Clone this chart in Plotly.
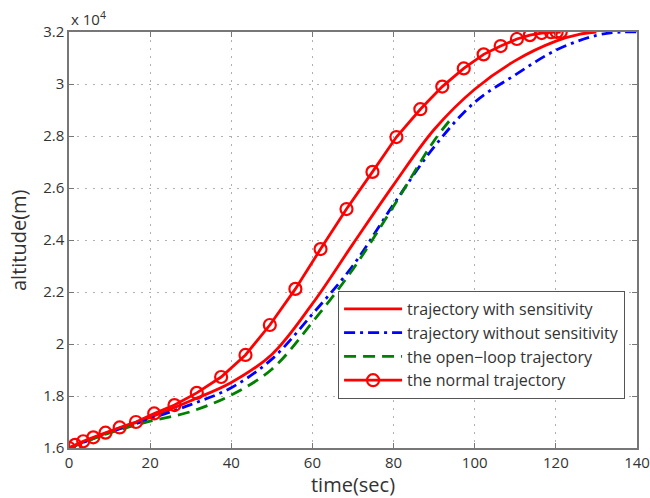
import plotly.graph_objects as go

# altitude values in units of 10^4 m
t_sens = [0, 10, 20, 30, 40, 50, 60, 70, 80, 90, 100, 110, 120, 126, 130]
y_sens = [1.600, 1.662, 1.718, 1.782, 1.852, 1.960, 2.155, 2.385, 2.612, 2.825, 2.980, 3.090,
          3.165, 3.192, 3.200]

t_nosens = [0, 10, 20, 30, 40, 50, 60, 70, 80, 90, 100, 110, 120, 130, 136, 140]
y_nosens = [1.600, 1.660, 1.712, 1.767, 1.832, 1.942, 2.115, 2.302, 2.537, 2.758, 2.930, 3.035,
            3.130, 3.187, 3.200, 3.200]

t_open = [0, 10, 20, 30, 40, 50, 60, 70, 80, 90, 94.5]
y_open = [1.600, 1.658, 1.703, 1.740, 1.804, 1.903, 2.084, 2.288, 2.530, 2.782, 2.872]

t_norm = [0, 1.5, 3.5, 6, 9, 12.5, 16.5, 21, 26, 31.5, 37.5, 43.5, 49.5, 55.8, 62, 68.4, 74.8,
          80.7, 86.6, 92, 97.3, 102.2, 106.4, 110.4, 113.6, 116.5, 118.8, 120.2, 121.2]
y_norm = [1.600, 1.612, 1.626, 1.641, 1.659, 1.679, 1.700, 1.733, 1.765, 1.812, 1.873, 1.958, 2.073,
          2.212, 2.365, 2.519, 2.662, 2.796, 2.903, 2.990, 3.060, 3.114, 3.146, 3.173, 3.188, 3.196,
          3.199, 3.200, 3.200]

x_ticks = [0, 20, 40, 60, 80, 100, 120, 140]
y_ticks = [1.6, 1.8, 2.0, 2.2, 2.4, 2.6, 2.8, 3.0, 3.2]
y_ticktext = ["1.6", "1.8", "2", "2.2", "2.4", "2.6", "2.8", "3", "3.2"]

names = ["trajectory with sensitivity", "trajectory without sensitivity",
         "the open\u2212loop trajectory", "the normal trajectory"]

fig = go.Figure()
fig.add_trace(go.Scatter(x=t_sens, y=y_sens, mode="lines", name=names[0],
                         line=dict(color="#ff0000", width=2.8, shape="spline", smoothing=1.0)))
fig.add_trace(go.Scatter(x=t_nosens, y=y_nosens, mode="lines", name=names[1],
                         line=dict(color="#0000ff", width=2.8, dash="11px,5px,3px,5px",
                                   shape="spline", smoothing=1.0)))
fig.add_trace(go.Scatter(x=t_open, y=y_open, mode="lines", name=names[2],
                         line=dict(color="#008000", width=2.8, dash="12px,7px",
                                   shape="spline", smoothing=1.0)))
fig.add_trace(go.Scatter(x=t_norm, y=y_norm, mode="lines+markers", name=names[3],
                         line=dict(color="#ff0000", width=2.8),
                         marker=dict(symbol="circle-open", size=12, color="#ff0000",
                                     line=dict(width=2.2, color="#ff0000"))))

font_family = "Open Sans, Noto Sans, sans-serif"

axis_common = dict(showgrid=True, gridcolor="#b0b0b0", griddash="2px,6px", gridwidth=1,
                   showline=True, linecolor="#777", linewidth=1.5, mirror="ticks",
                   ticks="inside", ticklen=5, tickcolor="#777", zeroline=False,
                   automargin=False, tickfont=dict(size=15, color="#333"))

fig.update_layout(
    width=650, height=498,
    margin=dict(l=69, r=13, t=32, b=50),
    paper_bgcolor="white", plot_bgcolor="white",
    font=dict(family=font_family, size=15, color="#333"),
    showlegend=True,
    legend=dict(x=0.979, y=0.118, xanchor="right", yanchor="bottom",
                bgcolor="white", bordercolor="#555", borderwidth=1,
                font=dict(size=16, color="#333"), tracegroupgap=0, itemwidth=58),
    xaxis=dict(range=[0, 140], tickvals=x_ticks,
               title=dict(text="time(sec)", font=dict(size=20, color="#333"), standoff=0),
               **axis_common),
    yaxis=dict(range=[1.6, 3.2], tickvals=y_ticks, ticktext=y_ticktext, **axis_common),
    annotations=[
        dict(text="x 10<sup>4</sup>", xref="paper", yref="paper", x=0.0, y=1.0,
             xanchor="left", yanchor="bottom", showarrow=False,
             font=dict(size=15, color="#333"), yshift=1),
        dict(text="altitude(m)", xref="paper", yref="paper", x=-0.0898, y=0.5,
             xanchor="center", yanchor="middle", textangle=-90, showarrow=False,
             font=dict(size=20, color="#333")),
    ],
)

# remove the page's default body margin so the 650x498 figure fills the window exactly
fig.write_html("out.html", config={"displayModeBar": False},
               post_script="document.body.style.margin='0';document.body.style.overflow='hidden';")
